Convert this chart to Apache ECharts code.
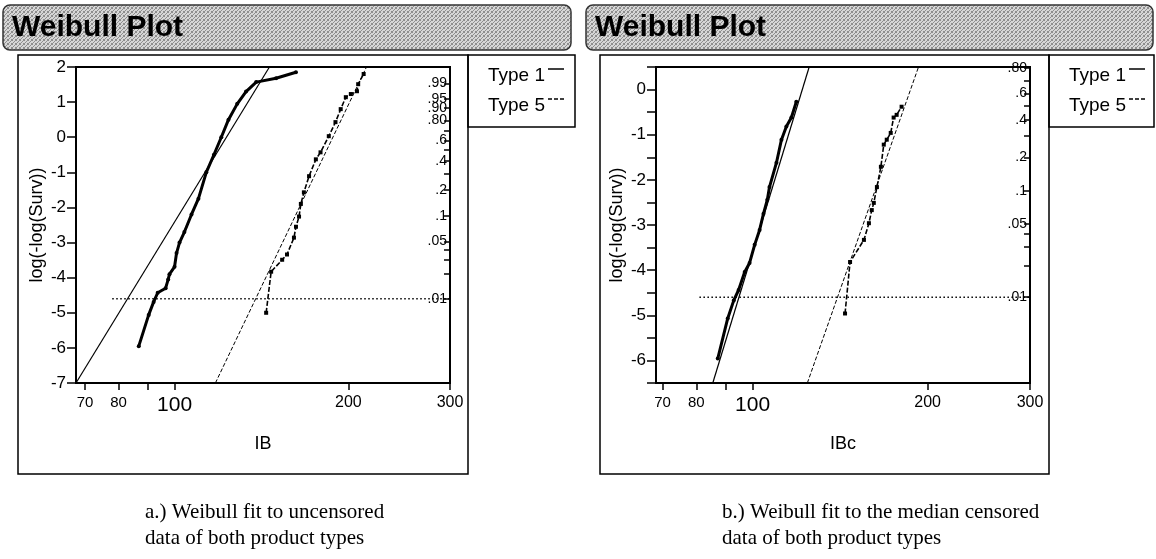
<!DOCTYPE html>
<html><head><meta charset="utf-8">
<script src="https://cdn.jsdelivr.net/npm/echarts@6/dist/echarts.min.js"></script>
<style>html,body{margin:0;padding:0;background:#fff}#c{width:1156px;height:559px}</style>
</head><body><div id="c"></div>
<script>
// ---- tick labels / text ----
const xTickValues = [70, 80, 90, 100, 200, 300];
const xLabelValues = [70, 80, 100, 200, 300];
const probLabelValues = [0.01, 0.05, 0.1, 0.2, 0.4, 0.6, 0.8, 0.9, 0.95, 0.99];
const probLabelText = ['.01', '.05', '.1', '.2', '.4', '.6', '.80', '.90', '.95', '.99'];
const probTickValues = [0.01, 0.02, 0.03, 0.04, 0.05, 0.1, 0.2, 0.3, 0.4, 0.5, 0.6, 0.7, 0.8, 0.9, 0.95, 0.99];
const panelTitle = 'Weibull Plot';
const xNames = ['IB', 'IBc'];
const yName = 'log(-log(Surv))';
const legendNames = ['Type 1', 'Type 5'];
const captionsA = ['a.) Weibull fit to uncensored', 'data of both product types'];
const captionsB = ['b.) Weibull fit to the median censored', 'data of both product types'];
const xRangeA = [67.5, 300], yRangeA = [-7, 2];
const xRangeB = [68.2, 300], yRangeB = [-6.5, 0.5];
const refProb = 0.01;
const refXA = [78, 300];
const refXB = [81, 300];

// ---- panel a (uncensored) ----
const type1A = [[86.7,-5.95],[90.2,-5.06],[92,-4.69],[93.5,-4.43],[96.5,-4.3],[97.5,-4.05],[98,-3.9],[100,-3.69],[100.8,-3.3],[102,-3.0],[104,-2.7],[107,-2.2],[110,-1.75],[113.5,-1.0],[117,-0.5],[120.5,0],[124,0.5],[128.4,0.95],[133,1.3],[138.5,1.57],[149.9,1.68],[162.3,1.85]];
const type5A = [[144.1,-5.0],[147,-3.83],[153.6,-3.49],[156.6,-3.34],[161,-2.86],[162.3,-2.55],[164.3,-2.26],[165.5,-1.9],[167.5,-1.57],[171,-1.11],[175.7,-0.63],[179,-0.43],[185,0.03],[190,0.43],[194,0.8],[198,1.14],[202,1.23],[207,1.31],[208,1.51],[212.6,1.8]];
const fit1A = [[67.5,-7],[146,2]];
const fit5A = [[117.7,-7],[215,2]];

// ---- panel b (median censored) ----
const type1B = [[87.1,-5.96],[90.6,-5.07],[92.8,-4.67],[94.6,-4.44],[96.9,-4.04],[98.8,-3.84],[100.8,-3.44],[102.8,-3.11],[104.4,-2.75],[106,-2.44],[106.9,-2.16],[109.9,-1.62],[112.1,-1.11],[114.3,-0.82],[116.6,-0.62],[118.9,-0.27]];
const type5B = [[144.2,-4.96],[147.1,-3.82],[155.4,-3.33],[158.5,-2.96],[160.3,-2.67],[161.6,-2.51],[163.6,-2.16],[166.2,-1.71],[168.1,-1.22],[170.1,-1.11],[172.8,-0.96],[174.8,-0.62],[176.9,-0.56],[180.4,-0.38]];
const fit1B = [[85.4,-6.5],[125.1,0.5]];
const fit5B = [[124.2,-6.5],[192.9,0.5]];

// ---- helpers ----
const L = v => Math.log10(v);
const weib = p => Math.log(-Math.log(1 - p));
const toXY = arr => arr.map(d => [L(d[0]), d[1]]);
const FONT = '"Liberation Sans", Arial, sans-serif';

function xAxisCfg(gi, range, name) {
  return {
    type: 'value', gridIndex: gi, min: L(range[0]), max: L(range[1]),
    name: name, nameLocation: 'middle', nameGap: 52,
    nameTextStyle: { fontFamily: FONT, fontSize: 18, color: '#000' },
    axisLine: { show: true, onZero: false, lineStyle: { color: '#000', width: 2 } },
    axisTick: { show: true, length: 7, customValues: xTickValues.map(L), lineStyle: { color: '#000', width: 1.5 } },
    axisLabel: {
      customValues: xLabelValues.map(L), margin: 12, color: '#000', fontFamily: FONT,
      formatter: v => { const n = Math.round(Math.pow(10, v)); return n === 100 ? '{big|100}' : (n >= 200 ? '{m|' + n + '}' : '{s|' + n + '}'); },
      rich: { big: { fontSize: 21, fontFamily: FONT, color: '#000' }, m: { fontSize: 16, fontFamily: FONT, color: '#000' }, s: { fontSize: 15, fontFamily: FONT, color: '#000' } }
    },
    splitLine: { show: false }
  };
}
function yAxisLeft(gi, range, interval) {
  return {
    type: 'value', gridIndex: gi, position: 'left', min: range[0], max: range[1], interval: interval,
    name: yName, nameLocation: 'middle', nameGap: 30, nameRotate: 90,
    nameTextStyle: { fontFamily: FONT, fontSize: 18, color: '#000' },
    axisLine: { show: true, onZero: false, lineStyle: { color: '#000', width: 2 } },
    axisTick: { show: true, length: 9, lineStyle: { color: '#000', width: 1.5 } },
    axisLabel: {
      margin: 10, color: '#000', fontFamily: FONT, fontSize: 17,
      formatter: v => Math.abs(v - Math.round(v)) < 1e-9 ? String(Math.round(v)) : ''
    },
    splitLine: { show: false }
  };
}
function yAxisRight(gi, range) {
  const inR = p => { const w = weib(p); return w >= range[0] - 1e-9 && w <= range[1] + 1e-9; };
  const labs = probLabelValues.filter(inR);
  return {
    type: 'value', gridIndex: gi, position: 'right', min: range[0], max: range[1],
    axisLine: { show: true, onZero: false, lineStyle: { color: '#000', width: 2 } },
    axisTick: { show: true, inside: true, length: 6, customValues: probTickValues.filter(inR).map(weib), lineStyle: { color: '#000', width: 1.5 } },
    axisLabel: {
      inside: true, margin: 3, customValues: labs.map(weib), color: '#000', fontFamily: FONT, fontSize: 14,
      formatter: v => { for (let i = 0; i < probLabelValues.length; i++) { if (Math.abs(weib(probLabelValues[i]) - v) < 1e-6) return probLabelText[i]; } return ''; }
    },
    splitLine: { show: false }
  };
}
function panelSeries(xi, yi, t1, t5, f1, f5, refX) {
  const yRef = weib(refProb);
  return [
    { type: 'line', xAxisIndex: xi, yAxisIndex: yi, data: toXY(f1), symbol: 'none', lineStyle: { color: '#000', width: 1.2 }, silent: true, z: 2 },
    { type: 'line', xAxisIndex: xi, yAxisIndex: yi, data: toXY(f5), symbol: 'none', lineStyle: { color: '#000', width: 1, type: [4, 2] }, silent: true, z: 2 },
    { type: 'line', xAxisIndex: xi, yAxisIndex: yi, data: [[L(refX[0]), yRef], [L(refX[1]), yRef]], symbol: 'none', lineStyle: { color: '#000', width: 1.6, type: [1.5, 2.5] }, silent: true, z: 2 },
    { type: 'line', name: legendNames[0], xAxisIndex: xi, yAxisIndex: yi, data: toXY(t1), symbol: 'circle', symbolSize: 4, itemStyle: { color: '#000' }, lineStyle: { color: '#000', width: 3 }, z: 3 },
    { type: 'line', name: legendNames[1], xAxisIndex: xi, yAxisIndex: yi, data: toXY(t5), symbol: 'rect', symbolSize: 4, itemStyle: { color: '#000' }, lineStyle: { color: '#000', width: 1.6, type: [5, 2] }, z: 3 }
  ];
}

// ---- stipple pattern for title bars ----
const pc = document.createElement('canvas'); pc.width = 4; pc.height = 4;
const g = pc.getContext('2d');
g.fillStyle = '#d6d6d6'; g.fillRect(0, 0, 4, 4);
g.fillStyle = '#8e8e8e';
[[0,0],[2,1],[3,3],[1,2],[3,0],[0,3]].forEach(p => g.fillRect(p[0], p[1], 1, 1));
const pat = { image: pc, repeat: 'repeat' };

function panelGraphics(bx, barX, barW, boxW, legX, legW, capX, caps) {
  const els = [];
  els.push({ type: 'rect', shape: { x: barX, y: 5, width: barW, height: 45, r: 7 }, style: { fill: pat, stroke: '#333', lineWidth: 1.5 }, z: 0 });
  els.push({ type: 'text', x: barX + 9, y: 28, style: { text: panelTitle, fill: '#000', font: 'bold 30px ' + FONT, verticalAlign: 'middle' }, z: 1 });
  els.push({ type: 'rect', shape: { x: bx, y: 55, width: boxW, height: 419 }, style: { fill: 'none', stroke: '#000', lineWidth: 1.5 }, z: 0 });
  els.push({ type: 'rect', shape: { x: legX, y: 55, width: legW, height: 72 }, style: { fill: 'none', stroke: '#000', lineWidth: 1.5 }, z: 0 });
  legendNames.forEach((n, i) => {
    const ty = 76 + i * 30;
    els.push({ type: 'text', x: legX + 20, y: ty, style: { text: n, fill: '#000', font: '19px ' + FONT, verticalAlign: 'middle' }, z: 1 });
    els.push({ type: 'line', shape: { x1: legX + 80, y1: ty - 7, x2: legX + 96, y2: ty - 7 }, style: { stroke: '#000', lineWidth: 1.5, lineDash: i ? [4, 2] : null }, z: 1 });
  });
  caps.forEach((c, i) => {
    els.push({ type: 'text', x: capX, y: 512 + i * 26, style: { text: c, fill: '#000', font: '21px "Liberation Serif", "Times New Roman", serif', verticalAlign: 'middle' }, z: 1 });
  });
  return els;
}

const chart = echarts.init(document.getElementById('c'), null, { renderer: 'canvas' });
chart.setOption({
  animation: false,
  backgroundColor: '#fff',
  grid: [
    { left: 76, top: 67, width: 374, height: 316, show: true, borderColor: '#000', borderWidth: 2, backgroundColor: 'transparent' },
    { left: 656, top: 67, width: 374, height: 316, show: true, borderColor: '#000', borderWidth: 2, backgroundColor: 'transparent' }
  ],
  xAxis: [xAxisCfg(0, xRangeA, xNames[0]), xAxisCfg(1, xRangeB, xNames[1])],
  yAxis: [yAxisLeft(0, yRangeA, 1), yAxisRight(0, yRangeA), yAxisLeft(1, yRangeB, 0.5), yAxisRight(1, yRangeB)],
  series: [].concat(
    panelSeries(0, 0, type1A, type5A, fit1A, fit5A, refXA),
    panelSeries(1, 2, type1B, type5B, fit1B, fit5B, refXB)
  ),
  graphic: { elements: [].concat(
    panelGraphics(18, 3, 568, 450, 468, 107, 145, captionsA),
    panelGraphics(600, 586, 567, 449, 1049, 105, 722, captionsB)
  ) }
});
</script></body></html>
